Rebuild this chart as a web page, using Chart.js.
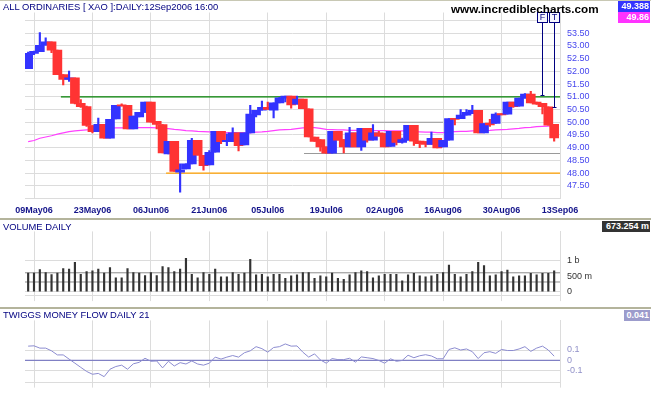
<!DOCTYPE html>
<html><head><meta charset="utf-8">
<script src="https://cdn.jsdelivr.net/npm/chart.js@4.4.0/dist/chart.umd.min.js"></script>
<style>
body{margin:0;background:#fff;}
#wrap{position:relative;width:651px;height:395px;overflow:hidden;font-family:"Liberation Sans",Arial,sans-serif;background:#fff;}
canvas{position:absolute;left:0;}
.t{position:absolute;white-space:nowrap;line-height:11px;}
.sep{position:absolute;left:0;width:651px;height:2px;background:#b4b49c;}
.box{position:absolute;color:#fff;font-weight:bold;font-size:9px;line-height:11px;height:11px;text-align:right;padding-right:1px;box-sizing:border-box;}
</style></head>
<body><div id="wrap">
<canvas id="cPrice" width="651" height="219" style="top:0"></canvas>
<canvas id="cVol" width="651" height="89" style="top:219px"></canvas>
<canvas id="cMf" width="651" height="87" style="top:308px"></canvas>
<div class="sep" style="top:0;height:1px;background:#c8c8b4"></div>
<div class="sep" style="top:218px"></div>
<div class="sep" style="top:307px"></div>
<div class="t" style="left:3px;top:1px;font-size:9.4px;color:#000080">ALL ORDINARIES [ XAO ]:DAILY:12Sep2006 16:00</div>
<div class="t" style="left:451px;top:1.5px;font-size:11.7px;line-height:13px;font-weight:bold;color:#000">www.incrediblecharts.com</div>
<div class="box" style="left:618px;top:1px;width:32px;background:#3333ff">49.388</div>
<div class="box" style="left:618px;top:12px;width:32px;background:#ff33ff">49.86</div>
<div class="t" style="left:3px;top:221px;font-size:9.4px;color:#000080">VOLUME DAILY</div>
<div class="box" style="left:602px;top:221px;width:48px;background:#333">673.254 m</div>
<div class="t" style="left:3px;top:308.5px;font-size:9.4px;color:#000080">TWIGGS MONEY FLOW DAILY 21</div>
<div class="box" style="left:624px;top:310px;width:26px;background:#9c9ccc">0.041</div>
</div>
<script>
// ---------- data ----------
const dates = ['08May06','09May06','10May06','11May06','12May06','15May06','16May06','17May06','18May06','19May06','22May06','23May06','24May06','25May06','26May06','29May06','30May06','31May06','01Jun06','02Jun06','05Jun06','06Jun06','07Jun06','08Jun06','09Jun06','13Jun06','14Jun06','15Jun06','16Jun06','19Jun06','20Jun06','21Jun06','22Jun06','23Jun06','26Jun06','27Jun06','28Jun06','29Jun06','30Jun06','03Jul06','04Jul06','05Jul06','06Jul06','07Jul06','10Jul06','11Jul06','12Jul06','13Jul06','14Jul06','17Jul06','18Jul06','19Jul06','20Jul06','21Jul06','24Jul06','25Jul06','26Jul06','27Jul06','28Jul06','31Jul06','01Aug06','02Aug06','03Aug06','04Aug06','07Aug06','08Aug06','09Aug06','10Aug06','11Aug06','14Aug06','15Aug06','16Aug06','17Aug06','18Aug06','21Aug06','22Aug06','23Aug06','24Aug06','25Aug06','28Aug06','29Aug06','30Aug06','31Aug06','01Sep06','04Sep06','05Sep06','06Sep06','07Sep06','08Sep06','11Sep06','12Sep06'];

const open = [52.11,52.71,52.78,53.03,53.16,52.84,51.87,51.68,51.75,50.74,
50.62,49.87,49.63,49.92,49.37,50.13,50.68,50.67,49.74,50.21,
50.39,50.79,50.04,49.91,48.75,49.25,48.04,48.16,48.36,49.29,
48.70,48.32,48.82,49.64,49.24,49.24,49.58,49.11,49.58,50.29,
50.47,50.59,50.47,50.76,50.95,51.03,50.71,50.91,50.53,49.42,
49.32,49.03,48.78,49.64,49.32,49.03,49.58,49.03,49.76,49.29,
49.58,49.55,49.05,49.64,49.21,49.29,49.88,49.26,49.24,49.13,
49.37,49.03,49.29,50.14,50.14,50.28,50.34,50.47,49.58,49.97,
49.95,50.34,50.32,50.79,50.63,50.95,51.11,50.79,50.74,50.61,
49.92];

const high = [52.76,52.80,53.53,53.32,53.16,52.84,51.87,52.01,51.75,50.89,
50.64,49.87,50.16,49.92,50.11,50.67,50.72,50.67,50.24,50.39,
50.79,50.79,50.04,49.91,49.25,49.25,48.36,48.36,49.37,49.29,
48.70,48.89,49.64,49.64,49.54,49.78,49.58,49.58,50.67,50.47,
50.83,50.79,50.76,50.98,51.03,51.03,51.03,50.91,50.53,49.42,
49.32,49.03,49.64,49.64,49.32,49.80,49.58,49.76,49.76,49.91,
49.64,49.55,49.64,49.64,49.38,49.88,49.88,49.26,49.24,49.61,
49.37,49.29,50.14,50.14,50.50,50.50,50.67,50.47,49.95,50.11,
50.37,50.34,50.79,50.79,50.95,51.13,51.22,50.79,50.74,50.61,
49.92];

const low = [52.11,52.66,52.78,53.03,52.74,51.87,51.47,51.61,50.72,50.58,
49.84,49.58,49.63,49.37,49.37,50.13,50.63,49.74,49.74,50.21,
50.39,50.00,49.74,48.79,48.75,48.07,47.25,48.16,48.36,48.70,
48.11,48.32,48.82,49.16,49.08,49.24,48.87,49.11,49.58,50.21,
50.47,50.50,50.17,50.76,50.80,50.55,50.71,50.53,49.42,49.25,
48.86,48.78,48.78,49.29,48.79,49.03,49.03,48.89,49.22,49.29,
49.45,49.03,49.05,49.11,49.18,49.29,49.09,49.00,49.03,49.13,
48.99,49.03,49.29,49.89,50.14,50.28,50.34,49.58,49.58,49.84,
49.95,50.29,50.32,50.58,50.63,50.95,50.76,50.70,50.33,49.88,
49.26];

const close = [52.71,52.79,53.03,53.16,52.84,51.87,51.68,51.75,50.74,50.61,
49.87,49.63,49.92,49.37,50.11,50.67,50.64,49.74,50.24,50.39,
50.79,50.00,49.91,48.79,49.25,48.07,48.13,48.36,49.29,48.70,
48.29,48.82,49.64,49.24,49.29,49.58,49.08,49.58,50.32,50.47,
50.59,50.50,50.76,50.96,51.03,50.68,50.91,50.53,49.42,49.25,
49.03,48.78,49.64,49.29,49.03,49.58,49.03,49.76,49.29,49.58,
49.45,49.03,49.64,49.21,49.32,49.88,49.26,49.16,49.13,49.37,
48.99,49.29,50.14,50.11,50.28,50.39,50.47,49.58,49.95,49.89,
50.32,50.29,50.79,50.61,50.95,51.11,50.76,50.71,50.61,49.88,
49.388];

const movingAvg = [49.24,49.28,49.37,49.42,49.47,49.53,49.58,49.63,49.66,49.68,
49.70,49.71,49.74,49.75,49.76,49.78,49.78,49.79,49.79,49.79,
49.79,49.79,49.78,49.76,49.75,49.72,49.70,49.67,49.66,49.64,
49.63,49.62,49.61,49.61,49.59,49.59,49.58,49.58,49.58,49.61,
49.62,49.64,49.67,49.70,49.71,49.72,49.75,49.78,49.79,49.79,
49.76,49.72,49.71,49.70,49.70,49.68,49.68,49.68,49.68,49.67,
49.67,49.67,49.66,49.66,49.66,49.64,49.63,49.62,49.61,49.61,
49.59,49.59,49.62,49.63,49.64,49.64,49.66,49.66,49.67,49.68,
49.70,49.71,49.72,49.74,49.76,49.79,49.80,49.83,49.84,49.85,
49.86];

const volumeM = [600,600,710,620,550,600,750,730,950,560,
650,670,730,600,780,450,450,750,620,600,
520,620,520,810,780,650,730,1080,560,450,
620,560,730,480,480,620,560,600,1050,540,
560,480,560,560,430,510,540,620,620,430,
510,480,600,430,400,540,620,670,650,450,
510,560,560,560,350,540,590,510,480,510,
560,620,860,560,480,560,650,950,840,510,
540,650,700,480,510,510,590,540,590,590,
673.254];

const moneyFlow = [0.137,0.140,0.118,0.118,0.092,0.053,0.053,0.013,-0.026,-0.066,
-0.105,-0.132,-0.124,-0.155,-0.084,-0.058,-0.045,-0.084,-0.032,-0.018,
0.021,-0.008,-0.005,-0.071,-0.008,-0.053,-0.021,-0.034,-0.005,-0.034,
-0.045,-0.026,0.032,0.013,0.032,0.047,0.032,0.074,0.092,0.132,
0.113,0.079,0.124,0.132,0.158,0.137,0.139,0.079,0.032,0.063,
0.005,-0.026,0.018,0.008,0.008,0.021,-0.016,0.034,0.026,0.018,
0.000,-0.026,0.016,-0.008,0.000,0.050,0.026,0.045,0.055,0.043,
0.016,0.016,0.105,0.121,0.100,0.110,0.084,0.018,0.074,0.084,
0.068,0.105,0.095,0.095,0.110,0.132,0.087,0.118,0.137,0.100,
0.041];

const tickLabels = ['09May06','23May06','06Jun06','21Jun06','05Jul06','19Jul06','02Aug06','16Aug06','30Aug06','13Sep06'];
const tickDateIndex = [1,11,21,31,41,51,61,71,81,91];

const priceTicks = [47,47.5,48,48.5,49,49.5,50,50.5,51,51.5,52,52.5,53,53.5,54];
const volTickValues = [0,500,1000];
const volTickLabels = ['0','500 m','1 b'];
const mfTickValues = [-0.1,0,0.1];
const mfTickLabels = ['-0.1','0','0.1'];

// horizontal trend / support lines (price level, from date index, to date index)
const levelValues = [51.0, 48.0, 50.0, 48.77];
const levelFrom   = [5.6, 23.6, 48.6, 47.2];
const levelTo     = [91, 91, 71, 91];
const volumeRefLines = [610, 311];

const signalLabels = ['F','T'];
const signalIndex = [88, 90];
const signalLevel = [51.07, 50.61];

// ---------- styles ----------
const X_MIN = -0.54, X_MAX = 91;
const GRID = '#dcdcdc';
const FONT = '"Liberation Sans", Arial, sans-serif';
const UP = '#3333ff', DOWN = '#ff3333';
const levelColors = ['#008000','#ffa000','#9a9a9a','#9a9a9a'];

function xAxis(height, showLabels, tickLen) {
  return {
    type: 'linear', min: X_MIN, max: X_MAX, offset: false,
    grid: { color: GRID, lineWidth: 1, drawTicks: tickLen > 0, tickLength: tickLen, offset: false },
    border: { display: true, color: GRID },
    ticks: {
      display: showLabels, autoSkip: false, maxRotation: 0, minRotation: 0, padding: 7,
      color: '#14148a', font: { family: FONT, size: 9, weight: 'bold' },
      callback: (v) => { const k = tickDateIndex.indexOf(v); return k >= 0 ? tickLabels[k] : ''; }
    },
    afterBuildTicks: (s) => { s.ticks = tickDateIndex.map(v => ({ value: v })); },
    afterFit: (s) => { s.height = height; }
  };
}
function yAxis(min, max, vals, labelFn, color, gridFn) {
  return {
    position: 'right', min, max,
    grid: { color: gridFn, drawTicks: false, lineWidth: 1 },
    border: { display: true, color: GRID },
    ticks: { autoSkip: false, padding: 7, color, font: { family: FONT, size: 9 }, callback: labelFn },
    afterBuildTicks: (s) => { s.ticks = vals.map(v => ({ value: v })); },
    afterFit: (s) => { s.width = 91; }
  };
}
const common = {
  responsive: false, animation: false, devicePixelRatio: 1,
  plugins: { legend: { display: false }, tooltip: { enabled: false } },
  events: []
};

// ---------- price chart ----------
const candleColors = close.map((c, i) => c >= open[i] ? UP : DOWN);
const signalPlugin = {
  id: 'signals',
  afterDatasetsDraw(chart) {
    const { ctx, scales: { x, y } } = chart;
    ctx.save();
    signalIndex.forEach((idx, k) => {
      const px = Math.round(x.getPixelForValue(idx)) + 0.5;
      const py = Math.round(y.getPixelForValue(signalLevel[k])) + 0.5;
      ctx.strokeStyle = '#000080'; ctx.lineWidth = 1;
      ctx.beginPath(); ctx.moveTo(px, 23); ctx.lineTo(px, py);
      ctx.moveTo(px - 2, py); ctx.lineTo(px + 2, py); ctx.stroke();
      ctx.fillStyle = '#f6f6ff';
      ctx.fillRect(px - 5, 12.5, 10, 10);
      ctx.strokeRect(px - 5, 12.5, 10, 10);
      ctx.fillStyle = '#000080'; ctx.font = '9px ' + FONT;
      ctx.textAlign = 'center'; ctx.textBaseline = 'middle';
      ctx.fillText(signalLabels[k], px, 18);
    });
    ctx.restore();
  }
};

const levelDatasets = levelValues.map((v, k) => ({
  type: 'line',
  data: [{ x: levelFrom[k], y: v }, { x: levelTo[k], y: v }],
  borderColor: levelColors[k], borderWidth: 1.2, pointRadius: 0, order: 3
}));

new Chart(document.getElementById('cPrice'), {
  type: 'line',
  data: { datasets: [
    { type: 'bar', data: dates.map((d, i) => ({ x: i, y: [low[i], high[i]] })),
      backgroundColor: candleColors, barThickness: 1.5, grouped: false, borderWidth: 0, order: 1 },
    { type: 'bar', data: dates.map((d, i) => ({ x: i, y: [open[i], close[i]] })),
      backgroundColor: candleColors, barThickness: 9, grouped: false, borderWidth: 0, minBarLength: 1, order: 0 },
    { type: 'line', data: dates.map((d, i) => ({ x: i, y: movingAvg[i] })),
      borderColor: '#ff40ff', borderWidth: 1.2, pointRadius: 0, order: 2 },
    ...levelDatasets
  ]},
  options: Object.assign({}, common, {
    layout: { padding: { left: 25, right: 0, top: 12.5, bottom: 0 } },
    scales: {
      x: xAxis(20.5, true, 0),
      y: yAxis(47, 54.317, priceTicks,
        (v) => (v >= 47.5 && v <= 53.5) ? v.toFixed(2) : '', '#4646ee', () => GRID)
    }
  }),
  plugins: [signalPlugin]
});

// ---------- volume chart ----------
new Chart(document.getElementById('cVol'), {
  type: 'line',
  data: { datasets: [
    { type: 'bar', data: dates.map((d, i) => ({ x: i, y: volumeM[i] })),
      backgroundColor: '#333333', barThickness: 1.5, grouped: false, borderWidth: 0, order: 0 },
    ...volumeRefLines.map(v => ({ type: 'line', data: [{ x: X_MIN, y: v }, { x: X_MAX, y: v }],
      borderColor: '#8c8c8c', borderWidth: 1, pointRadius: 0, order: 1 }))
  ]},
  options: Object.assign({}, common, {
    layout: { padding: { left: 25, right: 0, top: 1, bottom: 0 } },
    scales: {
      x: xAxis(11.5, false, 5.5),
      y: yAxis(-130.8, 1953.7, volTickValues,
        (v) => { const k = volTickValues.indexOf(v); return k >= 0 ? volTickLabels[k] : ''; }, '#333333',
        (c) => c.tick && c.tick.value === 500 ? 'rgba(0,0,0,0)' : GRID)
    }
  })
});

// ---------- money flow chart ----------
new Chart(document.getElementById('cMf'), {
  type: 'line',
  data: { datasets: [
    { type: 'line', data: dates.map((d, i) => ({ x: i, y: moneyFlow[i] })),
      borderColor: '#8c8cd0', borderWidth: 1, pointRadius: 0, tension: 0, order: 0 },
    { type: 'line', data: [{ x: X_MIN, y: 0 }, { x: X_MAX, y: 0 }],
      borderColor: '#8080c4', borderWidth: 1.2, pointRadius: 0, order: 1 }
  ]},
  options: Object.assign({}, common, {
    layout: { padding: { left: 25, right: 0, top: 2, bottom: 0 } },
    scales: {
      x: xAxis(10, false, 5),
      y: yAxis(-0.2119, 0.3833, mfTickValues,
        (v) => { const k = mfTickValues.indexOf(v); return k >= 0 ? mfTickLabels[k] : ''; }, '#9090c8',
        (c) => c.tick && c.tick.value === 0 ? 'rgba(0,0,0,0)' : GRID)
    }
  })
});
</script>
</body></html>
